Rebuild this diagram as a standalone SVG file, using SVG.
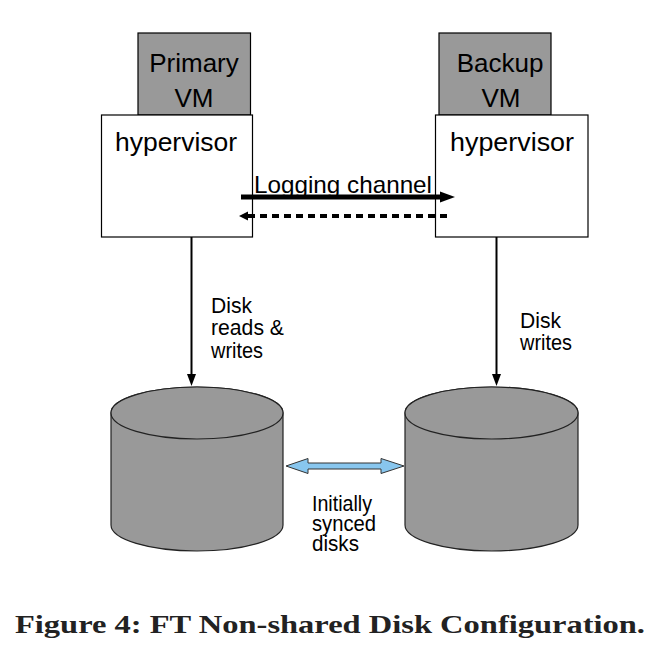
<svg xmlns="http://www.w3.org/2000/svg" width="667" height="653" viewBox="0 0 667 653">
<style>
.box{fill:#ffffff;stroke:#000;stroke-width:1.2}
.vm{fill:#999999;stroke:#000;stroke-width:1.2}
.cyl{fill:#999999;stroke:#222;stroke-width:1.2}
.big{font-family:"Liberation Sans",Arial,sans-serif;font-size:26px;fill:#000}
.mid{font-family:"Liberation Sans",Arial,sans-serif;font-size:24px;fill:#000}
.lbl{font-family:"Liberation Sans",Arial,sans-serif;font-size:22px;fill:#000}
.cap{font-family:"Liberation Serif","Times New Roman",serif;font-size:25px;font-weight:bold;fill:#222}
</style>
<rect width="667" height="653" fill="#ffffff"/>
<g id="primary-vm">
<rect class="vm" x="138" y="33" width="112.5" height="82"/>
<text class="big" x="194" y="72" text-anchor="middle">Primary</text>
<text class="big" x="194" y="107" text-anchor="middle">VM</text>
</g>
<g id="primary-hypervisor">
<rect class="box" x="101.5" y="115" width="151" height="122"/>
<text class="big" x="115" y="151" textLength="122" lengthAdjust="spacingAndGlyphs">hypervisor</text>
</g>
<g id="backup-vm">
<rect class="vm" x="439" y="33" width="112" height="82"/>
<text class="big" x="500" y="72" text-anchor="middle">Backup</text>
<text class="big" x="501" y="107" text-anchor="middle">VM</text>
</g>
<g id="backup-hypervisor">
<rect class="box" x="435.5" y="115" width="152.5" height="122"/>
<text class="big" x="450" y="151" textLength="124" lengthAdjust="spacingAndGlyphs">hypervisor</text>
</g>
<g id="primary-disk">
<path class="cyl" d="M111,413 L111,525 A86,26 0 0 0 283,525 L283,413 A86,26 0 0 0 111,413 Z"/>
<ellipse class="cyl" cx="197" cy="413" rx="86" ry="26"/>
</g>
<g id="backup-disk">
<path class="cyl" d="M405,413 L405,525 A86.5,26 0 0 0 578,525 L578,413 A86.5,26 0 0 0 405,413 Z"/>
<ellipse class="cyl" cx="491.5" cy="413" rx="86.5" ry="26"/>
</g>
<g id="labels">
<text class="mid" x="254" y="193" textLength="178" lengthAdjust="spacingAndGlyphs">Logging channel</text>
<text class="lbl" x="211" y="313" textLength="41" lengthAdjust="spacingAndGlyphs">Disk</text>
<text class="lbl" x="211" y="335" textLength="73" lengthAdjust="spacingAndGlyphs">reads &amp;</text>
<text class="lbl" x="211" y="358" textLength="52" lengthAdjust="spacingAndGlyphs">writes</text>
<text class="lbl" x="520" y="328" textLength="41" lengthAdjust="spacingAndGlyphs">Disk</text>
<text class="lbl" x="520" y="350" textLength="52" lengthAdjust="spacingAndGlyphs">writes</text>
<text class="lbl" x="312" y="511" textLength="60" lengthAdjust="spacingAndGlyphs">Initially</text>
<text class="lbl" x="312" y="531" textLength="64" lengthAdjust="spacingAndGlyphs">synced</text>
<text class="lbl" x="312" y="551" textLength="47" lengthAdjust="spacingAndGlyphs">disks</text>
</g>
<g id="connectors">
<line x1="241" y1="197" x2="441" y2="197" stroke="#000" stroke-width="5"/>
<polygon points="440,191.5 455,197 440,202.5" fill="#000"/>
<line x1="248" y1="216" x2="452" y2="216" stroke="#000" stroke-width="4" stroke-dasharray="7,5"/>
<polygon points="239,216 248,211.5 248,220.5" fill="#000"/>
<line x1="191.5" y1="237" x2="191.5" y2="375" stroke="#000" stroke-width="2"/>
<polygon points="187,374 196,374 191.5,386" fill="#000"/>
<line x1="496.5" y1="237" x2="496.5" y2="375" stroke="#000" stroke-width="2"/>
<polygon points="492,374 501,374 496.5,386" fill="#000"/>
<polygon points="286,466 308,458.5 308,463 381,463 381,458.5 404,466 381,473.5 381,469 308,469 308,473.5" fill="#88c6ee" stroke="#333" stroke-width="1"/>
</g>
<text class="cap" x="15" y="633" textLength="630" lengthAdjust="spacingAndGlyphs">Figure 4: FT Non-shared Disk Configuration.</text>
</svg>
